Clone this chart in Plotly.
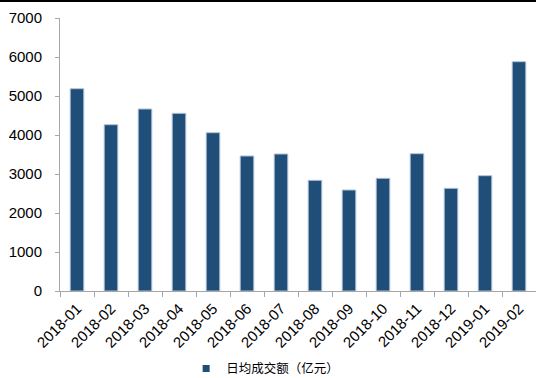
import plotly.graph_objects as go

categories = ["2018-01", "2018-02", "2018-03", "2018-04", "2018-05", "2018-06", "2018-07",
              "2018-08", "2018-09", "2018-10", "2018-11", "2018-12", "2019-01", "2019-02"]
values = [5187, 4264, 4667, 4556, 4059, 3462, 3513, 2838, 2590, 2890, 3521, 2633, 2957, 5880]
series_name = "日均成交额（亿元）"
y_ticks = [0, 1000, 2000, 3000, 4000, 5000, 6000, 7000]

bar_color = "#1F4E79"
axis_color = "#A6A6A6"

fig = go.Figure()
fig.add_trace(go.Bar(
    x=categories, y=values, name=series_name, showlegend=False,
    marker=dict(color=bar_color, line=dict(color="#B4C3D7", width=1)),
))
fig.add_trace(go.Scatter(
    x=[None], y=[None], mode="markers", name=series_name,
    marker=dict(symbol="square", size=7, color=bar_color),
))

fig.update_layout(
    width=536, height=378,
    margin=dict(l=60, r=0, t=18, b=87),
    plot_bgcolor="white", paper_bgcolor="white",
    bargap=0.6,
    font=dict(family="Liberation Sans, Arial, sans-serif", size=15, color="black"),
    showlegend=True,
    legend=dict(orientation="h", x=0.265, xanchor="left",
                yref="container", y=0.024, yanchor="middle",
                font=dict(family="Noto Sans CJK SC", size=12.5, color="black"),
                itemwidth=30, tracegroupgap=0),
    xaxis=dict(type="category", showline=True, linecolor=axis_color, linewidth=1,
               ticks="outside", tickson="boundaries", ticklen=5, tickcolor=axis_color,
               tickangle=-45, showgrid=False, zeroline=False, automargin=False,
               ticklabelstandoff=2, tickfont=dict(size=15)),
    yaxis=dict(range=[0, 7000], tickvals=y_ticks, showline=True, linecolor=axis_color,
               linewidth=1, ticks="outside", ticklen=4, tickcolor=axis_color,
               showgrid=False, zeroline=False, ticklabelstandoff=10, automargin=False,
               tickfont=dict(size=15)),
    shapes=[dict(type="rect", xref="paper", yref="paper",
                 x0=-60/476, x1=1.0, y0=(291-2)/273, y1=(291-0)/273,
                 fillcolor="black", line=dict(width=0), layer="above")],
)

fig.write_html("out.html")
